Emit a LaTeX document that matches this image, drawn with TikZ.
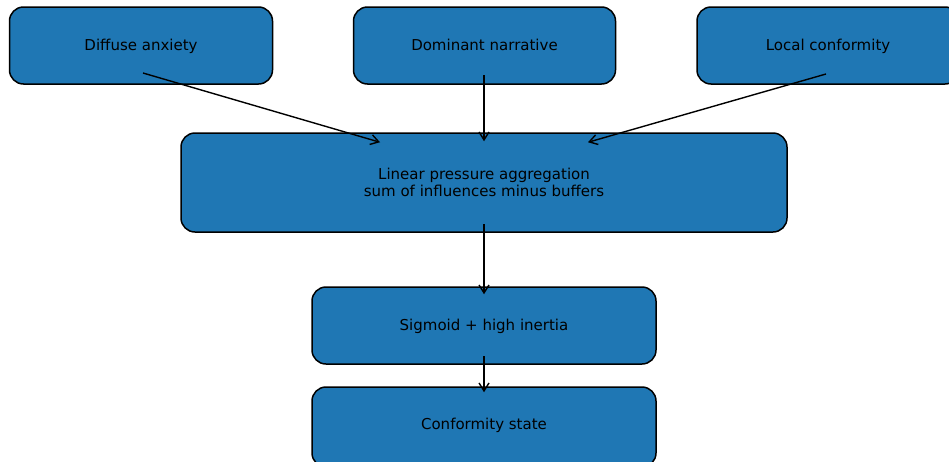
\documentclass[tikz,border=0pt]{standalone}
\usepackage{fontspec}
\setmainfont{DejaVu Sans}
\usetikzlibrary{arrows.meta,calc}
\definecolor{boxblue}{HTML}{1F77B4}
\begin{document}
\begin{tikzpicture}[x=1pt,y=-1pt,
  box/.style={draw=black, fill=boxblue, line width=1.5pt, rounded corners=14pt,
    minimum height=77pt, inner sep=0pt, align=center, text=black,
    font=\fontsize{15}{17.5}\selectfont},
  oneline/.style={text height=12.5pt, text depth=2pt},
  conn/.style={line width=1.4pt, -{Straight Barb[length=8pt,width=10pt,line width=1.4pt]}}]
\useasboundingbox (0,0) rectangle (949,461);
\clip (0,0) rectangle (949,461);
\node[box, oneline, minimum width=263pt] (A) at (141,45.5) {Diffuse anxiety};
\node[box, oneline, minimum width=262pt] (B) at (484.5,45.5) {Dominant narrative};
\node[box, oneline, minimum width=262pt] (C) at (828,45.5) {Local conformity};
\node[box, minimum width=606pt, minimum height=99pt] (L) at (484,182.5) {Linear pressure aggregation\\sum of influences minus buffers};
\node[box, oneline, minimum width=344pt] (S) at (484,325.5) {Sigmoid + high inertia};
\node[box, minimum width=344pt, minimum height=80pt, text height=9.5pt, text depth=5pt] (F) at (484,427) {Conformity state};
\draw[conn] ($(A.center)+(2,27.5)$) -- ($(L.north)+(-104,10)$);
\draw[conn] ($(B.center)+(-0.5,29.5)$) -- ($(L.north)+(0,9)$);
\draw[conn] ($(C.center)+(-2,28.5)$) -- ($(L.north)+(104,10)$);
\draw[conn] ($(L.center)+(0,41.5)$) -- ($(S.north)+(0,8)$);
\draw[conn] ($(S.center)+(0,30.5)$) -- ($(F.north)+(0,6)$);
\end{tikzpicture}
\end{document}
